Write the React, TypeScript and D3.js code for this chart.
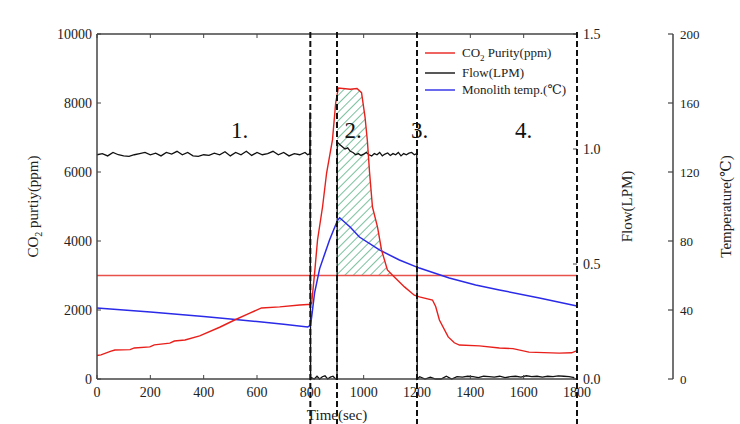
import React from "react";
import * as d3 from "d3";

const xTicks = [0, 200, 400, 600, 800, 1000, 1200, 1400, 1600, 1800];
const co2Ticks = [0, 2000, 4000, 6000, 8000, 10000];
const flowTicks = [0, 0.5, 1.0, 1.5];
const tempTicks = [0, 40, 80, 120, 160, 200];
const phaseLines = [800, 900, 1200, 1800];
const phaseLabels = ["1.", "2.", "3.", "4."];
const phaseLabelT = [535, 960, 1210, 1600];
const threshold = 3000;

const co2Times = [0, 15, 50, 67, 124, 140, 198, 215, 273, 290, 330, 385, 460, 516, 573, 617, 685, 760, 790, 800, 805, 816, 827, 846, 861, 883, 895, 905, 950, 975, 992, 1005, 1014, 1022, 1033, 1052, 1067, 1089, 1115, 1153, 1190, 1209, 1258, 1270, 1284, 1317, 1340, 1359, 1434, 1509, 1560, 1620, 1733, 1780, 1800];
const co2Values = [680, 700, 800, 840, 850, 900, 930, 990, 1040, 1100, 1130, 1250, 1500, 1710, 1910, 2060, 2090, 2145, 2160, 2160, 2200, 3070, 4030, 5000, 5970, 6930, 8000, 8435, 8400, 8420, 8300, 7600, 6900, 6000, 4985, 4400, 3740, 3160, 2960, 2670, 2430, 2380, 2290, 2100, 1710, 1220, 1050, 985, 960, 900, 880, 780, 750, 760, 820];

const tempTimes = [0, 100, 200, 300, 400, 500, 600, 700, 790, 800, 805, 816, 835, 872, 902, 910, 950, 984, 1059, 1134, 1209, 1321, 1420, 1509, 1659, 1800];
const tempValues = [41.2, 40, 38.8, 37.5, 36.2, 34.8, 33.3, 31.8, 30.2, 31, 36, 50, 64, 80.6, 92, 93.5, 88, 82.3, 74.8, 69, 64.3, 58.6, 54.5, 51.6, 47, 42.3];

const flowTimes = [
  0, 20, 40, 60, 80, 100, 120, 140, 160, 180, 200, 220, 240, 260, 280, 300, 320, 340, 360, 380,
  400, 420, 440, 460, 480, 500, 520, 540, 560, 580, 600, 620, 640, 660, 680, 700, 720, 740, 760, 780,
  790, 798, 799, 801,
  805, 815, 825, 835, 845, 855, 865, 875, 885, 895,
  900, 901,
  910, 920, 930, 940, 950, 960, 970, 980, 990, 1000, 1010, 1020, 1030, 1040, 1050, 1060, 1070, 1080, 1090, 1100,
  1110, 1120, 1130, 1140, 1150, 1160, 1170, 1180, 1190, 1199, 1201,
  1210, 1230, 1250, 1270, 1290, 1310, 1330, 1350, 1370, 1390, 1410, 1430, 1450, 1470, 1490, 1510, 1530, 1550,
  1570, 1590, 1610, 1630, 1650, 1670, 1690, 1710, 1730, 1750, 1770, 1790,
];
const flowValues = [
  0.975, 0.98, 0.97, 0.985, 0.975, 0.97, 0.968, 0.975, 0.98, 0.985, 0.975, 0.982, 0.97, 0.985, 0.978, 0.99, 0.975, 0.985, 0.97, 0.968,
  0.975, 0.972, 0.982, 0.975, 0.988, 0.97, 0.985, 0.975, 0.99, 0.972, 0.985, 0.975, 0.98, 0.99, 0.975, 0.985, 0.97, 0.98, 0.975, 0.985,
  0.975, 0.98, 1.16, 0,
  0.005, 0, 0.012, 0, 0.01, 0.014, 0, 0.008, 0.012, 0,
  0, 1.03,
  1.02, 1.01, 1.0, 1.005, 0.99, 0.985, 0.975, 0.98, 0.972, 0.978, 0.985, 0.975, 0.97, 0.98, 0.975, 0.985, 0.97, 0.978, 0.983, 0.972,
  0.98, 0.975, 0.985, 0.97, 0.98, 0.975, 0.982, 0.985, 0.975, 0.98, 0,
  0.01, 0, 0.008, 0, 0, 0.012, 0, 0.01, 0.008, 0.012, 0.01, 0.006, 0.012, 0.01, 0.008, 0.012, 0.006, 0.01,
  0.012, 0.008, 0.014, 0.01, 0.012, 0.008, 0.012, 0.01, 0.014, 0.012, 0.01, 0.006,
];

const W = 740;
const H = 424;
const left = 97;
const right = 577;
const top = 34;
const bottom = 379;
const axisX3 = 673;

export default function App() {
  const x = d3.scaleLinear().domain([0, 1800]).range([left, right]);
  const yC = d3.scaleLinear().domain([0, 10000]).range([bottom, top]);
  const yF = d3.scaleLinear().domain([0, 1.5]).range([bottom, top]);
  const yT = d3.scaleLinear().domain([0, 200]).range([bottom, top]);

  const co2 = co2Times.map((t, i) => [t, co2Values[i]] as [number, number]);
  const temp = tempTimes.map((t, i) => [t, tempValues[i]] as [number, number]);
  const flow = flowTimes.map((t, i) => [t, flowValues[i]] as [number, number]);

  const co2Line = d3.line<[number, number]>().x((d) => x(d[0])).y((d) => yC(d[1]))(co2) || "";
  const tempLine = d3.line<[number, number]>().x((d) => x(d[0])).y((d) => yT(d[1]))(temp) || "";
  const flowLine = d3.line<[number, number]>().x((d) => x(d[0])).y((d) => yF(d[1]))(flow) || "";

  const interp = (t: number) => {
    for (let i = 0; i < co2.length - 1; i++) {
      if (t >= co2[i][0] && t <= co2[i + 1][0]) {
        const f = (t - co2[i][0]) / (co2[i + 1][0] - co2[i][0]);
        return co2[i][1] + f * (co2[i + 1][1] - co2[i][1]);
      }
    }
    return co2[co2.length - 1][1];
  };
  let tCross = 900;
  for (let i = 0; i < co2.length - 1; i++) {
    if (co2[i][0] >= 900 && co2[i][1] >= threshold && co2[i + 1][1] < threshold) {
      const f = (co2[i][1] - threshold) / (co2[i][1] - co2[i + 1][1]);
      tCross = co2[i][0] + f * (co2[i + 1][0] - co2[i][0]);
      break;
    }
  }
  const hatchPts: [number, number][] = [[900, interp(900)]];
  co2.forEach((d) => {
    if (d[0] > 900 && d[0] < tCross) hatchPts.push(d);
  });
  hatchPts.push([tCross, threshold]);
  const hatchArea =
    d3
      .area<[number, number]>()
      .x((d) => x(d[0]))
      .y0(yC(threshold))
      .y1((d) => yC(d[1]))(hatchPts) || "";

  const serif = "Liberation Serif, DejaVu Serif, serif";
  const axisColor = "#444";

  return (
    <svg width={W} height={H} style={{ position: "absolute", left: 0, top: 0, background: "#fff", fontFamily: serif }}>
      <defs>
        <pattern id="hatch" width="6" height="6" patternUnits="userSpaceOnUse" patternTransform="rotate(45)">
          <line x1="0" y1="0" x2="0" y2="6" stroke="#0c8c4c" strokeWidth="1.1" />
        </pattern>
      </defs>

      <path d={hatchArea} fill="url(#hatch)" stroke="none" />

      <line x1={x(0)} x2={x(1800)} y1={yC(threshold)} y2={yC(threshold)} stroke="#e8504a" strokeWidth={1.5} />

      <path d={flowLine} fill="none" stroke="#111" strokeWidth={1.3} />
      <path d={tempLine} fill="none" stroke="#2a2ae8" strokeWidth={1.5} />
      <path d={co2Line} fill="none" stroke="#e8201c" strokeWidth={1.4} />

      <line x1={left} x2={right} y1={top} y2={top} stroke={axisColor} strokeWidth={1.5} />
      <line x1={left} x2={right} y1={bottom} y2={bottom} stroke={axisColor} strokeWidth={1.5} />
      <line x1={left} x2={left} y1={top} y2={bottom} stroke={axisColor} strokeWidth={1.5} />

      {xTicks.map((t) => (
        <g key={"xt" + t}>
          <line x1={x(t)} x2={x(t)} y1={bottom} y2={bottom - 4} stroke={axisColor} strokeWidth={1} />
          <line x1={x(t)} x2={x(t)} y1={top} y2={top + 4} stroke={axisColor} strokeWidth={1} />
          <text x={x(t)} y={bottom + 18} textAnchor="middle" fontSize={14} fill="#222">
            {t}
          </text>
        </g>
      ))}

      {co2Ticks.map((v) => (
        <g key={"ct" + v}>
          <line x1={left} x2={left + 4} y1={yC(v)} y2={yC(v)} stroke={axisColor} strokeWidth={1} />
          <text x={left - 5} y={yC(v) + 5} textAnchor="end" fontSize={14} fill="#222">
            {v}
          </text>
        </g>
      ))}

      {flowTicks.map((v) => (
        <g key={"ft" + v}>
          <line x1={right} x2={right - 4} y1={yF(v)} y2={yF(v)} stroke={axisColor} strokeWidth={1} />
          <text x={right + 6} y={yF(v) + 5} textAnchor="start" fontSize={14} fill="#222">
            {v.toFixed(1)}
          </text>
        </g>
      ))}

      <line x1={axisX3} x2={axisX3} y1={top} y2={bottom} stroke={axisColor} strokeWidth={1.5} />
      {tempTicks.map((v) => (
        <g key={"tt" + v}>
          <line x1={axisX3} x2={axisX3 - 5} y1={yT(v)} y2={yT(v)} stroke={axisColor} strokeWidth={1.2} />
          <text x={axisX3 + 7} y={yT(v) + 5} textAnchor="start" fontSize={13} fill="#222">
            {v}
          </text>
        </g>
      ))}

      {phaseLines.map((t) => (
        <line key={"pl" + t} x1={x(t)} x2={x(t)} y1={top - 2} y2={H} stroke="#111" strokeWidth={2} strokeDasharray="6 3" />
      ))}

      {phaseLabels.map((s, i) => (
        <text key={"lab" + i} x={x(phaseLabelT[i])} y={138} textAnchor="middle" fontSize={23} fill="#111">
          {s}
        </text>
      ))}

      <g fontSize={13} fill="#222">
        <line x1={425} x2={455} y1={53} y2={53} stroke="#e8201c" strokeWidth={1.4} />
        <text x={462} y={57}>
          CO<tspan fontSize={9} dy={4}>2</tspan>
          <tspan dy={-4}> Purity(ppm)</tspan>
        </text>
        <line x1={425} x2={455} y1={73} y2={73} stroke="#111" strokeWidth={1.4} />
        <text x={462} y={77}>Flow(LPM)</text>
        <line x1={425} x2={455} y1={90} y2={90} stroke="#2a2ae8" strokeWidth={1.4} />
        <text x={462} y={94}>Monolith temp.(℃)</text>
      </g>

      <text transform={`translate(38, ${(top + bottom) / 2}) rotate(-90)`} textAnchor="middle" fontSize={15} fill="#222">
        CO<tspan fontSize={10} dy={4}>2</tspan>
        <tspan dy={-4}> purtiy(ppm)</tspan>
      </text>
      <text transform={`translate(632, ${(top + bottom) / 2}) rotate(-90)`} textAnchor="middle" fontSize={15} fill="#222">
        Flow(LPM)
      </text>
      <text transform={`translate(731, ${(top + bottom) / 2}) rotate(-90)`} textAnchor="middle" fontSize={15} fill="#222">
        Temperature(℃)
      </text>
      <text x={337} y={420} textAnchor="middle" fontSize={15} fill="#222">
        Time(sec)
      </text>
    </svg>
  );
}
